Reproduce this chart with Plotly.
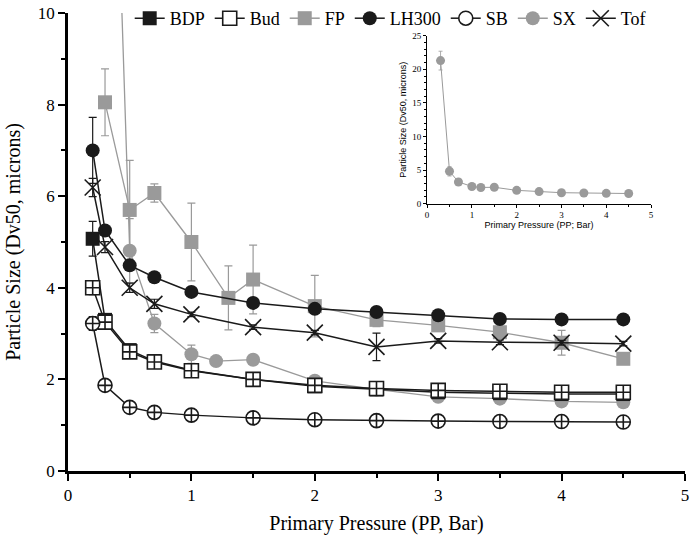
import plotly.graph_objects as go

# ---- data ----
pressure = [0.2, 0.3, 0.5, 0.7, 1.0, 1.5, 2.0, 2.5, 3.0, 3.5, 4.0, 4.5]
fp_pressure = [0.3, 0.5, 0.7, 1.0, 1.3, 1.5, 2.0, 2.5, 3.0, 3.5, 4.0, 4.5]
sx_pressure = [0.3, 0.5, 0.7, 1.0, 1.2, 1.5, 2.0, 2.5, 3.0, 3.5, 4.0, 4.5]

bdp = [5.07, 3.3, 2.64, 2.4, 2.2, 2.0, 1.85, 1.78, 1.72, 1.7, 1.68, 1.68]
bdp_err = [0.38, 0.1, 0.08, 0.05, 0.05, 0.05, 0.05, 0.05, 0.05, 0.05, 0.05, 0.05]
bud = [4.0, 3.25, 2.6, 2.38, 2.19, 2.0, 1.87, 1.8, 1.76, 1.74, 1.72, 1.72]
bud_err = [0.15, 0.1, 0.08, 0.08, 0.08, 0.06, 0.06, 0.06, 0.06, 0.06, 0.06, 0.06]
fp = [8.05, 5.7, 6.07, 5.0, 3.78, 4.18, 3.6, 3.3, 3.18, 3.03, 2.8, 2.45]
fp_err = [0.73, 1.08, 0.2, 0.85, 0.7, 0.75, 0.67, 0.15, 0.1, 0.1, 0.27, 0.05]
lh300 = [7.0, 5.25, 4.49, 4.23, 3.91, 3.67, 3.54, 3.47, 3.4, 3.32, 3.31, 3.31]
lh300_err = [0.72, 0.1, 0.1, 0.05, 0.05, 0.05, 0.05, 0.05, 0.05, 0.05, 0.05, 0.05]
sb = [3.22, 1.87, 1.39, 1.28, 1.22, 1.16, 1.12, 1.1, 1.09, 1.08, 1.08, 1.07]
sb_err = [0.15, 0.08, 0.05, 0.05, 0.05, 0.05, 0.05, 0.05, 0.05, 0.05, 0.05, 0.05]
sx = [21.3, 4.81, 3.22, 2.55, 2.4, 2.43, 1.97, 1.78, 1.62, 1.58, 1.52, 1.5]
sx_err = [1.4, 0.7, 0.2, 0.2, 0.05, 0.05, 0.1, 0.05, 0.05, 0.05, 0.05, 0.05]
tof = [6.19, 4.89, 4.0, 3.65, 3.42, 3.14, 3.02, 2.71, 2.84, 2.81, 2.8, 2.78]
tof_err = [0.2, 0.12, 0.1, 0.1, 0.05, 0.05, 0.05, 0.3, 0.05, 0.05, 0.05, 0.05]

BLACK = "#1a1a1a"
GREY = "#9a9a9a"
SERIF = "Liberation Serif"
SANS = "Liberation Sans"

# name, x, y, err, color, data symbol, legend symbol, filled
series = [
    ("FP", fp_pressure, fp, fp_err, GREY, "square", "square", True),
    ("SX", sx_pressure, sx, sx_err, GREY, "circle", "circle", True),
    ("BDP", pressure, bdp, bdp_err, BLACK, "square", "square", True),
    ("Bud", pressure, bud, bud_err, BLACK, "square-cross", "square", False),
    ("LH300", pressure, lh300, lh300_err, BLACK, "circle", "circle", True),
    ("SB", pressure, sb, sb_err, BLACK, "circle-cross", "circle", False),
    ("Tof", pressure, tof, tof_err, BLACK, "x-thin", "x-thin", True),
]
legend_order = ["BDP", "Bud", "FP", "LH300", "SB", "SX", "Tof"]

fig = go.Figure()


def marker_style(symbol, color, filled, size):
    if symbol == "x-thin":
        return dict(symbol=symbol, size=size + 2, color=color,
                    line=dict(color=color, width=1.6))
    if filled:
        return dict(symbol=symbol, size=size, color=color,
                    line=dict(color=color, width=0))
    return dict(symbol=symbol, size=size, color="white",
                line=dict(color=color, width=1.6))


for name, x, y, err, color, sym, _, filled in series:
    fig.add_trace(go.Scatter(
        x=x, y=y, mode="lines+markers", showlegend=False,
        line=dict(color=color, width=1.5 if color == BLACK else 1.3),
        marker=marker_style(sym, color, filled, 14),
        error_y=dict(type="data", array=err, color=color, thickness=1.2, width=4),
    ))

# legend entries with the plain symbols
lookup = {s[0]: s for s in series}
for name in legend_order:
    _, _, _, _, color, _, lsym, filled = lookup[name]
    fig.add_trace(go.Scatter(
        x=[None], y=[None], mode="lines+markers", name=name,
        line=dict(color=color, width=1.5),
        marker=marker_style(lsym, color, filled, 14),
    ))

# inset: SX over full range
fig.add_trace(go.Scatter(
    x=sx_pressure, y=sx, mode="lines+markers", showlegend=False,
    xaxis="x2", yaxis="y2",
    line=dict(color=GREY, width=1),
    marker=dict(symbol="circle", size=9, color=GREY),
    error_y=dict(type="data", array=sx_err, color=GREY, thickness=0.8, width=2),
))

axis_common = dict(
    showline=True, linecolor="black", ticks="outside", tickcolor="black",
    showgrid=False, zeroline=False, mirror=False, automargin=False,
)

# paper spans figure rows 0..471 (t=0); main plot top at 12px
fig.update_layout(
    width=693, height=542,
    margin=dict(l=68, r=8, t=0, b=71),
    plot_bgcolor="white", paper_bgcolor="white",
    font=dict(family=SERIF, color="black"),
    xaxis=dict(
        **axis_common, range=[0, 5], dtick=1, linewidth=2.5, tickwidth=2, ticklen=7,
        minor=dict(dtick=0.5, ticks="outside", ticklen=4, tickwidth=2, tickcolor="black"),
        tickfont=dict(family=SERIF, size=17),
        title=dict(text="Primary Pressure (PP, Bar)", font=dict(family=SERIF, size=20), standoff=12),
    ),
    yaxis=dict(
        **axis_common, domain=[0, 0.9745], range=[0, 10], dtick=2, linewidth=2.5,
        tickwidth=2, ticklen=7,
        minor=dict(dtick=1, ticks="outside", ticklen=4, tickwidth=2, tickcolor="black"),
        tickfont=dict(family=SERIF, size=17),
        title=dict(text="Particle Size (Dv50, microns)", font=dict(family=SERIF, size=20), standoff=12),
    ),
    xaxis2=dict(
        **axis_common, domain=[0.582, 0.945], anchor="y2", range=[0, 5], dtick=1,
        linewidth=1, tickwidth=1, ticklen=3,
        minor=dict(dtick=0.5, ticks="outside", ticklen=2, tickwidth=1, tickcolor="black"),
        tickfont=dict(family=SERIF, size=9),
        title=dict(text="Primary Pressure (PP; Bar)", font=dict(family=SANS, size=9), standoff=2),
    ),
    yaxis2=dict(
        **axis_common, domain=[0.569, 0.926], anchor="x2", range=[0, 25], dtick=5,
        linewidth=1, tickwidth=1, ticklen=3,
        minor=dict(dtick=1, ticks="outside", ticklen=2, tickwidth=1, tickcolor="black"),
        tickfont=dict(family=SERIF, size=9),
        title=dict(text="Particle Size (Dv50, microns)", font=dict(family=SANS, size=9), standoff=4),
    ),
    legend=dict(
        orientation="h", x=0.1, y=0.962, xanchor="left", yanchor="middle",
        font=dict(family=SERIF, size=18), bgcolor="rgba(0,0,0,0)",
        itemwidth=30, tracegroupgap=0,
    ),
)

fig.write_html("out.html", config={"displayModeBar": False},
               post_script="document.body.style.margin='0px';")
